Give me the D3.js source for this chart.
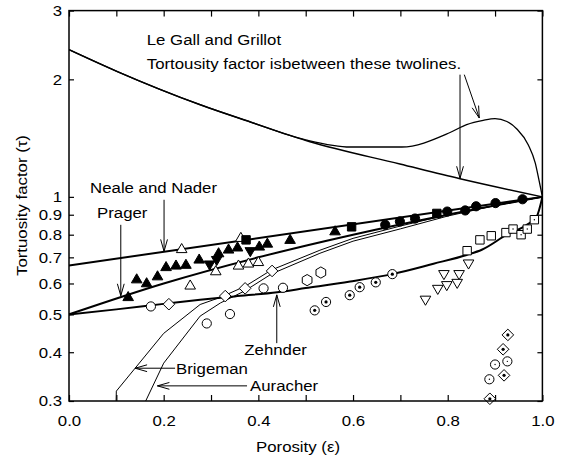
<!DOCTYPE html>
<html><head><meta charset="utf-8">
<script src="https://cdn.jsdelivr.net/npm/d3@7"></script>
<style>
html,body{margin:0;padding:0;background:#fff;}
svg{display:block;}
text{font-family:"Liberation Sans",Arial,Helvetica,sans-serif;fill:#000;}
</style></head><body>
<svg id="chart" width="565" height="457"></svg>
<script>
// ---- model curves: [porosity ε, tortuosity factor τ] ----
const legallLower = [[0,2.383],[0.101,2.097],[0.277,1.722],[0.382,1.557],[0.509,1.384],[0.699,1.214],[0.826,1.113],[1,1]];
const legallUpper = [[0,2.383],[0.101,2.097],[0.277,1.722],[0.382,1.557],[0.5,1.40],[0.594,1.342],[0.703,1.342],[0.805,1.462],[0.840,1.531],[0.875,1.57],[0.90,1.586],[0.925,1.56],[0.946,1.492],[0.970,1.36],[0.985,1.22],[0.993,1.10],[1,1]];
const nealeNader = [[0,0.667],[1,1]];
const prager = [[0,0.5],[0.2,0.6],[0.4,0.7],[0.6,0.8],[0.8,0.9],[1,1]];
const zehnder = [[0,0.5],[0.1,0.515],[0.2,0.532],[0.277,0.545],[0.35,0.556],[0.44,0.570],[0.5,0.584],[0.594,0.607],[0.685,0.635],[0.77,0.674],[0.84,0.71],[0.872,0.732],[0.925,0.80],[0.967,0.848],[0.988,0.891],[1,1]];
const brigeman = [[0.0995,0.30],[0.1,0.318],[0.2,0.447],[0.277,0.53],[0.32,0.553],[0.372,0.59],[0.428,0.65],[0.53,0.73],[0.6,0.783],[0.7,0.842],[0.8,0.9],[0.9,0.95],[1,1]];
const auracher = [[0.162,0.30],[0.2,0.375],[0.277,0.495],[0.32,0.535],[0.372,0.575],[0.428,0.635],[0.53,0.717],[0.6,0.77],[0.7,0.828],[0.8,0.893],[0.9,0.95],[1,1]];

// ---- measured points ----
const filledTriUp = [[0.125,0.553],[0.143,0.614],[0.164,0.600],[0.187,0.625],[0.205,0.660],[0.226,0.666],[0.247,0.669],[0.275,0.690],[0.316,0.716],[0.337,0.732],[0.356,0.741],[0.402,0.745],[0.419,0.758],[0.467,0.775],[0.562,0.815]];
const openTriUp = [[0.238,0.734],[0.256,0.592],[0.310,0.644],[0.363,0.784],[0.358,0.666],[0.379,0.674],[0.400,0.680]];
const filledTriDown = [[0.297,0.672],[0.312,0.690],[0.383,0.727]];
const filledSquare = [[0.374,0.776],[0.597,0.838],[0.777,0.907]];
const filledCircle = [[0.668,0.848],[0.699,0.865],[0.731,0.880],[0.799,0.917],[0.837,0.923],[0.860,0.946],[0.901,0.964],[0.958,0.986]];
const openCircle = [[0.173,0.524],[0.291,0.474],[0.340,0.501],[0.411,0.583],[0.452,0.585]];
const openDiamond = [[0.211,0.531],[0.330,0.557],[0.372,0.583],[0.429,0.646]];
const openHexagon = [[0.503,0.612],[0.532,0.640]];
const boldDotCircle = [[0.519,0.512],[0.543,0.538],[0.593,0.560],[0.614,0.587],[0.648,0.604],[0.683,0.634]];
const openTriDown = [[0.753,0.546],[0.779,0.582],[0.798,0.595],[0.820,0.603],[0.792,0.635],[0.824,0.635],[0.844,0.676]];
const openSquare = [[0.841,0.728],[0.868,0.776],[0.892,0.795],[0.923,0.810]];
const dotSquare = [[0.938,0.827],[0.955,0.800],[0.968,0.827],[0.983,0.874]];
const dotDiamond = [[0.927,0.443],[0.917,0.407],[0.919,0.349],[0.889,0.304]];
const dotCircle = [[0.900,0.372],[0.926,0.379],[0.888,0.341]];

// ---- axes ----
const xTicks = [0,0.1,0.2,0.3,0.4,0.5,0.6,0.7,0.8,0.9,1.0];
const xTickLabels = ["0.0","","0.2","","0.4","","0.6","","0.8","","1.0"];
const yTicks = [0.3,0.4,0.5,0.6,0.7,0.8,0.9,1,2,3];
const yTickLabels = ["0.3","0.4","0.5","0.6","0.7","0.8","0.9","1","2","3"];

// ---- annotations: text at [ε, τ] baseline start; arrows from tail to tip ----
const notes = [
  {text:"Le Gall and Grillot", at:[0.1643,2.454]},
  {text:"Tortousity factor isbetween these twolines.", at:[0.1643,2.124]},
  {text:"Neale and Nader", at:[0.0446,1.025]},
  {text:"Prager", at:[0.0593,0.882]},
  {text:"Zehnder", at:[0.3704,0.394]},
  {text:"Brigeman", at:[0.2262,0.352]},
  {text:"Auracher", at:[0.3825,0.319]}
];
const arrows = [
  {from:[0.826,2.056], to:[0.826,1.116]},
  {from:[0.835,2.056], to:[0.8667,1.592]},
  {from:[0.2008,0.983], to:[0.2008,0.725]},
  {from:[0.1094,0.848], to:[0.1094,0.558]},
  {from:[0.4389,0.422], to:[0.4389,0.561]},
  {from:[0.2241,0.364], to:[0.1396,0.364]},
  {from:[0.3761,0.328], to:[0.1867,0.328]}
];

const svg = d3.select("#chart");
const plot = {left:69, right:542.4, top:10.6, bottom:401};
const x = d3.scaleLinear().domain([0,1]).range([plot.left, plot.right]);
const y = d3.scaleLog().domain([0.3,3]).range([plot.bottom, plot.top]);
const FS = 15, SX = 1.12;   // font size and horizontal glyph stretch

const clip = svg.append("defs").append("clipPath").attr("id","plotclip")
  .append("rect").attr("x",plot.left).attr("y",plot.top)
  .attr("width",plot.right-plot.left).attr("height",plot.bottom-plot.top);

// axes with inward ticks
function styleAxis(g){
  g.select(".domain").remove();
  g.selectAll(".tick line").attr("stroke","#000").attr("stroke-width",1.2);
  g.selectAll(".tick text").attr("font-size",FS).attr("font-family","Liberation Sans, Arial, sans-serif").attr("fill","#000");
}
svg.append("g").attr("transform",`translate(0,${plot.bottom})`)
  .call(d3.axisBottom(x).tickValues(xTicks).tickSizeInner(-6).tickSizeOuter(0).tickPadding(14)
    .tickFormat((d,i)=>xTickLabels[i]))
  .call(styleAxis)
  .call(g=>g.selectAll(".tick text").attr("transform",`scale(${SX},1)`));
svg.append("g").attr("transform",`translate(0,${plot.top})`)
  .call(d3.axisTop(x).tickValues(xTicks).tickSizeInner(-6).tickSizeOuter(0).tickFormat(""))
  .call(styleAxis);
svg.append("g").attr("transform",`translate(${plot.left},0)`)
  .call(d3.axisLeft(y).tickValues(yTicks).tickSizeInner(-5).tickSizeOuter(0).tickPadding(7/SX)
    .tickFormat((d,i)=>yTickLabels[i]))
  .call(styleAxis)
  .call(g=>g.selectAll(".tick text").attr("transform",`scale(${SX},1)`));
svg.append("g").attr("transform",`translate(${plot.right},0)`)
  .call(d3.axisRight(y).tickValues(yTicks).tickSizeInner(-5).tickSizeOuter(0).tickFormat(""))
  .call(styleAxis);

// axis titles
svg.append("text").attr("font-size",FS).attr("text-anchor","middle")
  .attr("transform",`translate(298,452) scale(${SX},1)`).text("Porosity (ε)");
svg.append("text").attr("font-size",FS).attr("text-anchor","middle")
  .attr("transform",`translate(27,205.5) rotate(-90) scale(${SX},1)`).text("Tortuosity factor (τ)");

// curves
const lineSmooth = d3.line().x(d=>x(d[0])).y(d=>y(d[1])).curve(d3.curveMonotoneX);
const lineStraight = d3.line().x(d=>x(d[0])).y(d=>y(d[1]));
const curves = svg.append("g").attr("clip-path","url(#plotclip)").attr("fill","none").attr("stroke","#000");
curves.append("path").attr("d",lineSmooth(legallLower)).attr("stroke-width",1.5);
curves.append("path").attr("d",lineSmooth(legallUpper)).attr("stroke-width",1.3);
curves.append("path").attr("d",lineStraight(nealeNader)).attr("stroke-width",2);
curves.append("path").attr("d",lineSmooth(prager)).attr("stroke-width",2);
curves.append("path").attr("d",lineSmooth(zehnder)).attr("stroke-width",2);
curves.append("path").attr("d",lineStraight(brigeman)).attr("stroke-width",1);
curves.append("path").attr("d",lineStraight(auracher)).attr("stroke-width",1);

// marker shapes
const hexPath = "M" + d3.range(6).map(i=>{const a=(-90+60*i)*Math.PI/180;return [5.6*Math.cos(a),5.6*Math.sin(a)].join(",");}).join("L") + "Z";
const shapes = {
  triUp:"M0,-5.8L5.3,3.3L-5.3,3.3Z",
  triDown:"M0,5.8L5.3,-3.3L-5.3,-3.3Z",
  square:"M-4.2,-4.2h8.4v8.4h-8.4Z",
  diamond:"M0,-5.8L5.8,0L0,5.8L-5.8,0Z",
  circle:"M4.6,0A4.6,4.6 0 1 1 -4.6,0A4.6,4.6 0 1 1 4.6,0Z",
  hexagon:hexPath
};
function drawPoints(data, shape, filled, dot){
  const g = svg.append("g").selectAll("g").data(data).join("g")
    .attr("transform",d=>`translate(${x(d[0])},${y(d[1])})`);
  g.append("path").attr("d",shapes[shape])
    .attr("fill",filled?"#000":"#fff").attr("stroke","#000").attr("stroke-width",1);
  if(dot) g.append("circle").attr("r",dot).attr("fill","#000");
}
drawPoints(openTriUp,"triUp",false);
drawPoints(openCircle,"circle",false);
drawPoints(openDiamond,"diamond",false);
drawPoints(openHexagon,"hexagon",false);
drawPoints(boldDotCircle,"circle",false,1.6);
drawPoints(openTriDown,"triDown",false);
drawPoints(openSquare,"square",false);
drawPoints(dotSquare,"square",false,0.7);
drawPoints(dotDiamond,"diamond",false,1.6);
drawPoints(dotCircle,"circle",false,0.7);
drawPoints(filledTriUp,"triUp",true);
drawPoints(filledTriDown,"triDown",true);
drawPoints(filledSquare,"square",true);
drawPoints(filledCircle,"circle",true);

// annotations
svg.append("g").selectAll("text").data(notes).join("text")
  .attr("font-size",FS)
  .attr("transform",d=>`translate(${x(d.at[0])},${y(d.at[1])}) scale(${SX},1)`)
  .text(d=>d.text);
const ag = svg.append("g").attr("stroke","#000").attr("fill","none").attr("stroke-width",1);
arrows.forEach(a=>{
  const x1=x(a.from[0]), y1=y(a.from[1]), x2=x(a.to[0]), y2=y(a.to[1]);
  const ang=Math.atan2(y2-y1,x2-x1), L=12, W=3.4;
  const bx=x2-L*Math.cos(ang), by=y2-L*Math.sin(ang);
  const px=-Math.sin(ang)*W, py=Math.cos(ang)*W;
  ag.append("line").attr("x1",x1).attr("y1",y1).attr("x2",x2).attr("y2",y2);
  ag.append("path").attr("d",`M${bx+px},${by+py}L${x2},${y2}L${bx-px},${by-py}`);
});

// frame
svg.append("rect").attr("x",plot.left).attr("y",plot.top)
  .attr("width",plot.right-plot.left).attr("height",plot.bottom-plot.top)
  .attr("fill","none").attr("stroke","#000").attr("stroke-width",1.5);
</script>
</body></html>
